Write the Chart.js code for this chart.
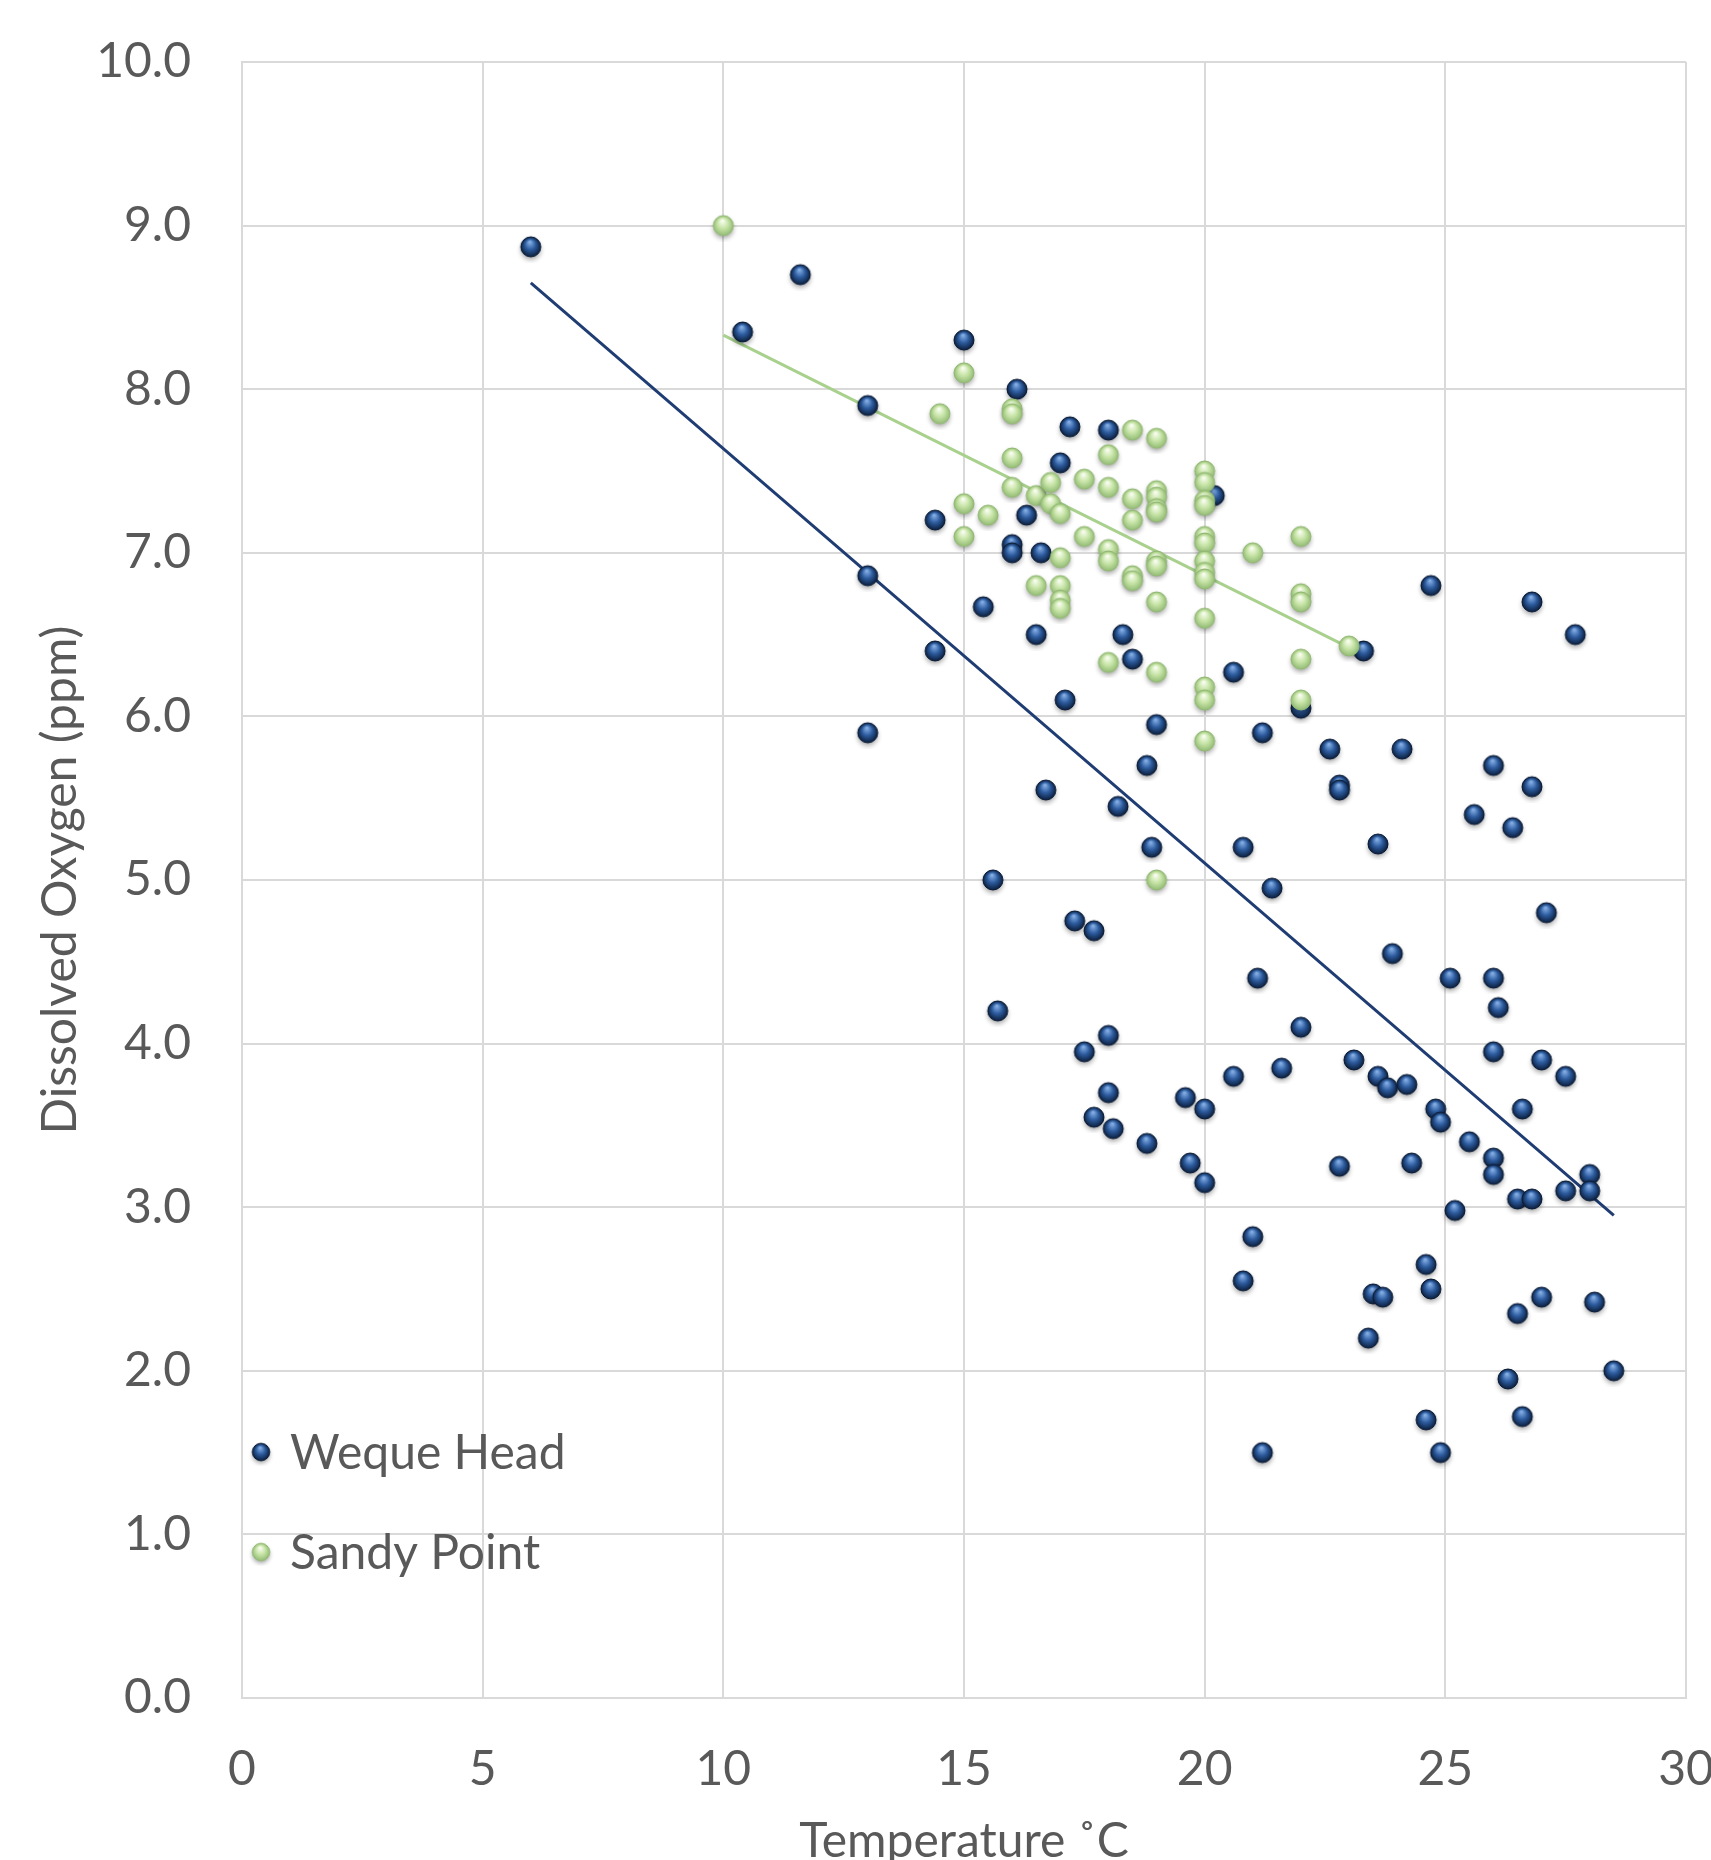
<!DOCTYPE html>
<html>
<head>
<meta charset="utf-8">
<script src="https://cdn.jsdelivr.net/npm/chart.js@4.4.1/dist/chart.umd.min.js"></script>
<style>
  html, body { margin: 0; padding: 0; background: #fff; }
</style>
</head>
<body>
<canvas id="myChart" width="1711" height="1860"></canvas>
<script>
// Weque Head samples: temperature (C) and dissolved oxygen (ppm)
const wequeTemp = [6, 10.4, 11.6, 13, 13, 13, 14.4, 14.4, 15, 15.4, 15.6, 15.7, 16, 16, 16.1, 16.3, 16.5, 16.6, 16.7, 17,
  17.1, 17.2, 17.3, 17.5, 17.7, 17.7, 18, 18, 18, 18.1, 18.2, 18.3, 18.5, 18.8, 18.8, 18.9, 19, 19.6, 19.7, 20,
  20, 20.2, 20.6, 20.6, 20.8, 20.8, 21, 21.1, 21.2, 21.2, 21.4, 21.6, 22, 22, 22.6, 22.8, 22.8, 22.8, 23.1, 23.3,
  23.4, 23.5, 23.6, 23.6, 23.7, 23.8, 23.9, 24.1, 24.2, 24.3, 24.6, 24.6, 24.7, 24.7, 24.8, 24.9, 24.9, 25.1, 25.2, 25.5,
  25.6, 26, 26, 26, 26, 26, 26.1, 26.3, 26.4, 26.5, 26.5, 26.6, 26.6, 26.8, 26.8, 26.8, 27, 27, 27.1, 27.5,
  27.5, 27.7, 28, 28, 28.1, 28.5];
const wequeDO = [8.87, 8.35, 8.70, 7.90, 6.86, 5.90, 7.20, 6.40, 8.30, 6.67, 5.00, 4.20, 7.05, 7.00, 8.00, 7.23, 6.50, 7.00, 5.55, 7.55,
  6.10, 7.77, 4.75, 3.95, 4.69, 3.55, 7.75, 4.05, 3.70, 3.48, 5.45, 6.50, 6.35, 5.70, 3.39, 5.20, 5.95, 3.67, 3.27, 3.60,
  3.15, 7.35, 6.27, 3.80, 5.20, 2.55, 2.82, 4.40, 5.90, 1.50, 4.95, 3.85, 6.05, 4.10, 5.80, 5.58, 5.55, 3.25, 3.90, 6.40,
  2.20, 2.47, 5.22, 3.80, 2.45, 3.73, 4.55, 5.80, 3.75, 3.27, 2.65, 1.70, 6.80, 2.50, 3.60, 3.52, 1.50, 4.40, 2.98, 3.40,
  5.40, 5.70, 4.40, 3.95, 3.30, 3.20, 4.22, 1.95, 5.32, 3.05, 2.35, 3.60, 1.72, 6.70, 5.57, 3.05, 3.90, 2.45, 4.80, 3.80,
  3.10, 6.50, 3.20, 3.10, 2.42, 2.00];

// Sandy Point samples
const sandyTemp = [10, 14.5, 15, 15, 15, 15.5, 16, 16, 16, 16, 16.5, 16.5, 16.8, 16.8, 17, 17, 17, 17, 17, 17.5,
  17.5, 18, 18, 18, 18, 18, 18.5, 18.5, 18.5, 18.5, 18.5, 19, 19, 19, 19, 19, 19, 19, 19, 19,
  19, 20, 20, 20, 20, 20, 20, 20, 20, 20, 20, 20, 20, 20, 21, 22, 22, 22, 22, 22, 23];
const sandyDO = [9.00, 7.85, 8.10, 7.30, 7.10, 7.23, 7.88, 7.85, 7.58, 7.40, 7.35, 6.80, 7.43, 7.30, 7.24, 6.97, 6.80, 6.71, 6.66, 7.45,
  7.10, 7.60, 7.40, 7.02, 6.95, 6.33, 7.75, 7.33, 7.20, 6.86, 6.83, 7.70, 7.38, 7.34, 7.27, 7.25, 6.95, 6.92, 6.70, 6.27,
  5.00, 7.50, 7.43, 7.32, 7.29, 7.10, 7.06, 6.95, 6.88, 6.84, 6.60, 6.18, 6.10, 5.85, 7.00, 7.10, 6.75, 6.70, 6.35, 6.10, 6.43];

// linear trendline end points
const wequeTrendTemp = [6, 28.5];
const wequeTrendDO = [8.65, 2.95];
const sandyTrendTemp = [10, 23];
const sandyTrendDO = [8.33, 6.42];

const seriesNames = ['Weque Head', 'Sandy Point'];

function toPoints(xs, ys) {
  return xs.map((x, i) => ({ x: x, y: ys[i] }));
}

// small shaded ball used as marker
function sphere(light, base, dark, rim, r) {
  const c = document.createElement('canvas');
  c.width = 32; c.height = 32;
  const g = c.getContext('2d');
  const cx = 16, cy = 16;
  g.save();
  g.shadowColor = 'rgba(0,0,0,0.35)';
  g.shadowBlur = 5;
  g.shadowOffsetY = 3;
  g.beginPath();
  g.arc(cx, cy, r, 0, Math.PI * 2);
  g.fillStyle = base;
  g.fill();
  g.restore();
  const grad = g.createRadialGradient(cx - 1, cy - 5, 0.5, cx, cy, r);
  grad.addColorStop(0, light);
  grad.addColorStop(0.5, base);
  grad.addColorStop(1, dark);
  g.beginPath();
  g.arc(cx, cy, r, 0, Math.PI * 2);
  g.fillStyle = grad;
  g.fill();
  g.lineWidth = 1;
  g.strokeStyle = rim;
  g.stroke();
  return c;
}

const navyBall = sphere('#86b0e6', '#2d5c9f', '#0c1f3d', '#0a1a33', 10);
const greenBall = sphere('#fafef3', '#c8e5a8', '#93bc75', '#90b672', 10);

const legendInside = {
  id: 'legendInside',
  afterDatasetsDraw(chart) {
    const { ctx, chartArea } = chart;
    const items = chart.data.datasets.filter(d => d.inLegend);
    ctx.save();
    ctx.font = '48px Lato';
    ctx.fillStyle = '#595959';
    ctx.textBaseline = 'middle';
    ctx.textAlign = 'left';
    items.forEach((d, i) => {
      const y = chartArea.bottom - 246 + i * 100;
      const img = d.pointStyle;
      ctx.drawImage(img, chartArea.left + 19 - 14, y - 14, 28, 28);
      ctx.fillText(d.label, chartArea.left + 48, y + 2);
    });
    ctx.restore();
  }
};

const config = {
  type: 'scatter',
  data: {
    datasets: [
      {
        label: seriesNames[0],
        data: toPoints(wequeTemp, wequeDO),
        pointStyle: navyBall,
        pointRadius: 10,
        inLegend: true,
        order: 2
      },
      {
        label: seriesNames[1],
        data: toPoints(sandyTemp, sandyDO),
        pointStyle: greenBall,
        pointRadius: 10,
        inLegend: true,
        order: 1
      },
      {
        label: 'Weque Head trend',
        data: toPoints(wequeTrendTemp, wequeTrendDO),
        showLine: true,
        borderColor: '#1f3d73',
        borderWidth: 3,
        pointRadius: 0,
        order: 4
      },
      {
        label: 'Sandy Point trend',
        data: toPoints(sandyTrendTemp, sandyTrendDO),
        showLine: true,
        borderColor: '#a9d18e',
        borderWidth: 3,
        pointRadius: 0,
        order: 3
      }
    ]
  },
  options: {
    responsive: false,
    animation: false,
    events: [],
    layout: { padding: { top: 62, right: 25, bottom: 0, left: 0 } },
    plugins: {
      legend: { display: false },
      tooltip: { enabled: false }
    },
    scales: {
      x: {
        type: 'linear',
        min: 0,
        max: 30,
        ticks: {
          stepSize: 5,
          padding: 43,
          color: '#595959',
          font: { family: 'Lato', size: 48 }
        },
        grid: { color: '#d9d9d9', lineWidth: 2, drawTicks: false },
        border: { display: true, color: '#d9d9d9', width: 2 },
        title: {
          display: true,
          text: 'Temperature ˚C',
          color: '#595959',
          font: { family: 'Lato', size: 48, lineHeight: 0.75 },
          padding: 0
        },
        afterFit(scale) {
          scale.height = 162;
          scale.paddingLeft = 0;
          scale.paddingRight = 0;
        }
      },
      y: {
        type: 'linear',
        min: 0,
        max: 10,
        ticks: {
          stepSize: 1,
          padding: 51,
          color: '#595959',
          font: { family: 'Lato', size: 48 },
          callback: v => v.toFixed(1)
        },
        grid: { color: '#d9d9d9', lineWidth: 2, drawTicks: false },
        border: { display: true, color: '#d9d9d9', width: 2 },
        title: {
          display: true,
          text: 'Dissolved Oxygen (ppm)',
          color: '#595959',
          font: { family: 'Lato', size: 48 },
          padding: { top: 32, bottom: 0 }
        },
        afterFit(scale) {
          scale.width = 242;
          scale.paddingTop = 0;
          scale.paddingBottom = 0;
        }
      }
    }
  },
  plugins: [legendInside]
};

const ctx = document.getElementById('myChart').getContext('2d');
const grafica = new Chart(ctx, config);
</script>
</body>
</html>
